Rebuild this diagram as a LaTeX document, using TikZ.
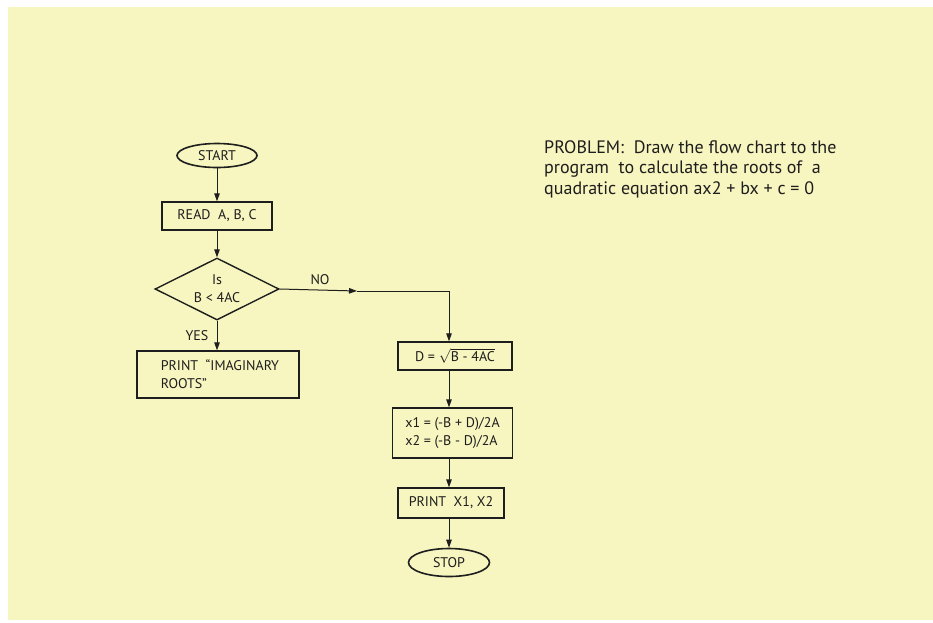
\documentclass[tikz,border=0pt]{standalone}
\usepackage{fontspec}
\setmainfont{PT Sans}
\usetikzlibrary{shapes.geometric,arrows.meta}
\definecolor{bg}{RGB}{247,245,192}
\definecolor{ink}{RGB}{30,30,30}
\begin{document}
\begin{tikzpicture}[x=1pt,y=-1pt,
  boxfont/.style={font=\fontsize{14}{18}\selectfont,text=ink},
  term/.style={ellipse,draw=ink,line width=1.6pt,minimum width=80pt,minimum height=24pt,inner sep=0pt,boxfont},
  proc/.style={rectangle,draw=ink,line width=1.4pt,inner sep=0pt,boxfont},
  dec/.style={diamond,draw=ink,line width=1.4pt,aspect=2,inner sep=0pt,minimum width=124pt,minimum height=62pt,align=center,boxfont},
  conn/.style={draw=ink,line width=1pt,-{Triangle[length=8pt,width=5.5pt]}},
  lbl/.style={boxfont}
]
\useasboundingbox (0,0) rectangle (933,622);
\fill[white] (0,0) rectangle (933,622);
\fill[bg] (8,7) rectangle (933,620);

% left column
\node[term] (start) at (217,155.5) {START};
\node[proc,minimum width=110pt,minimum height=28pt] (read) at (217,216) {READ\ \ A, B, C};
\node[dec] (dec) at (217,289) {Is\\B < 4AC};
\node[proc,minimum width=162pt,minimum height=47pt] (pi) at (218,374.5) {};
\node[lbl,align=left,anchor=west] (pitext) at ([xshift=21pt]pi.west) {PRINT \ “IMAGINARY\\ROOTS”};

% right column
\coordinate (col) at (449,0);
\node[proc,minimum width=114pt,minimum height=28pt] (dbox) at (455,356) {D = $\sqrt{\mbox{B - 4AC}}$};
\node[proc,minimum width=120pt,minimum height=50pt,align=left] (xbox) at (452.5,433) {x1 = (-B + D)/2A\\x2 = (-B - D)/2A};
\node[proc,minimum width=106pt,minimum height=30pt] (pbox) at (451,503) {PRINT\ \ X1, X2};
\node[term,minimum width=81pt,minimum height=28pt] (stop) at (449,562.5) {STOP};

% connectors
\draw[conn] (start) -- (read);
\draw[conn] (read) -- (dec);
\draw[conn] (dec) -- (pi.north -| dec.south);
\coordinate (mid) at (357,291);
\draw[conn] (dec.east) -- (mid);
\draw[conn] (mid) -| (col |- dbox.north);
\draw[conn] (col |- dbox.south) -- (col |- xbox.north);
\draw[conn] (col |- xbox.south) -- (col |- pbox.north);
\draw[conn] (col |- pbox.south) -- (stop.north);

% labels
\node[lbl] (no) at (320,280) {NO};
\node[lbl] (yes) at (197,336) {YES};

% problem text
\node[anchor=north west,align=left,inner sep=0pt,text=ink,font=\fontsize{18}{20.5}\selectfont] (prob) at (544,140)
  {PROBLEM:\ \ Draw the flow chart to the\\program \ to calculate the roots of \ a\\quadratic equation ax2 + bx + c = 0};
\end{tikzpicture}
\end{document}
